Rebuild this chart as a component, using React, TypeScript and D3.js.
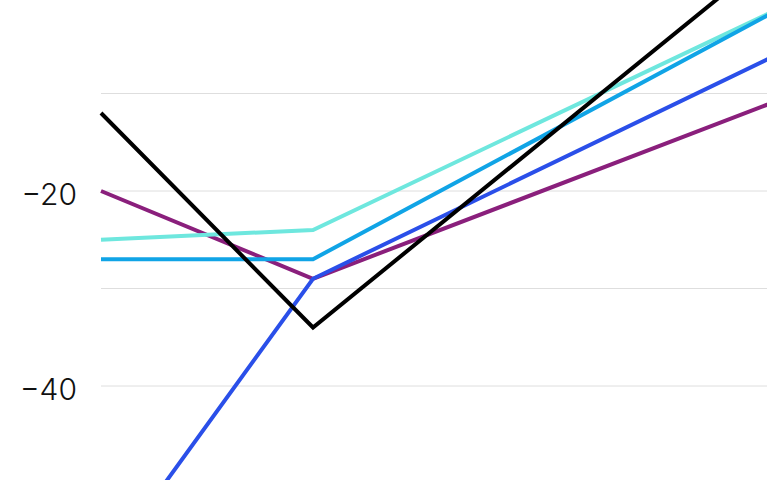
import { format, line, scaleLinear } from 'd3';
import React from 'react';

const WIDTH = 767;
const HEIGHT = 480;

// x positions of the data points (the third one lies beyond the visible area)
const xPoints = [0, 1, 4];

const blackValues = [-12, -34, 19];
const purpleValues = [-20, -29, -4];
const turquoiseValues = [-25, -24, 7];
const skyValues = [-27, -27, 8];
const royalValues = [-59, -29, 2.5];

const gridTicks = [-50, -40, -30, -20, -10, 0];
const labelTicks = [-40, -20];

const series = [
  { name: 'purple', values: purpleValues, color: '#8a1f7c' },
  { name: 'turquoise', values: turquoiseValues, color: '#6ee7de' },
  { name: 'sky', values: skyValues, color: '#10a4e6' },
  { name: 'royal', values: royalValues, color: '#2a4fe9' },
  { name: 'black', values: blackValues, color: '#000000' },
];

const App = (): JSX.Element => {
  const x = scaleLinear().domain([0, 1]).range([101, 313]);
  const y = scaleLinear().domain([-20, -40]).range([191, 386]);
  const fmt = format('d');

  const path = line<[number, number]>()
    .x((d) => x(d[0]))
    .y((d) => y(d[1]));

  return (
    <svg
      width={WIDTH}
      height={HEIGHT}
      viewBox={`0 0 ${WIDTH} ${HEIGHT}`}
      style={{ position: 'fixed', left: 0, top: 0, background: '#fff' }}
    >
      {/* Gridlines */}
      <g stroke="#dedede" strokeWidth={1}>
        {gridTicks.map((t) => (
          <line key={t} x1={x(0)} x2={WIDTH} y1={y(t)} y2={y(t)} />
        ))}
      </g>

      {/* Y axis labels */}
      <g
        fontFamily="Inter, 'Liberation Sans', sans-serif"
        fontWeight={300}
        fontSize={30}
        fill="#111"
        textAnchor="end"
      >
        {labelTicks.map((t) => (
          <text key={t} x={77} y={y(t)} dy="0.47em">
            {fmt(t)}
          </text>
        ))}
      </g>

      {/* Lines */}
      <g fill="none" strokeWidth={4} strokeLinejoin="miter">
        {series.map((s) => (
          <path
            key={s.name}
            d={path(s.values.map((v, i) => [xPoints[i], v] as [number, number])) || ''}
            stroke={s.color}
          />
        ))}
      </g>
    </svg>
  );
};

export default App;
